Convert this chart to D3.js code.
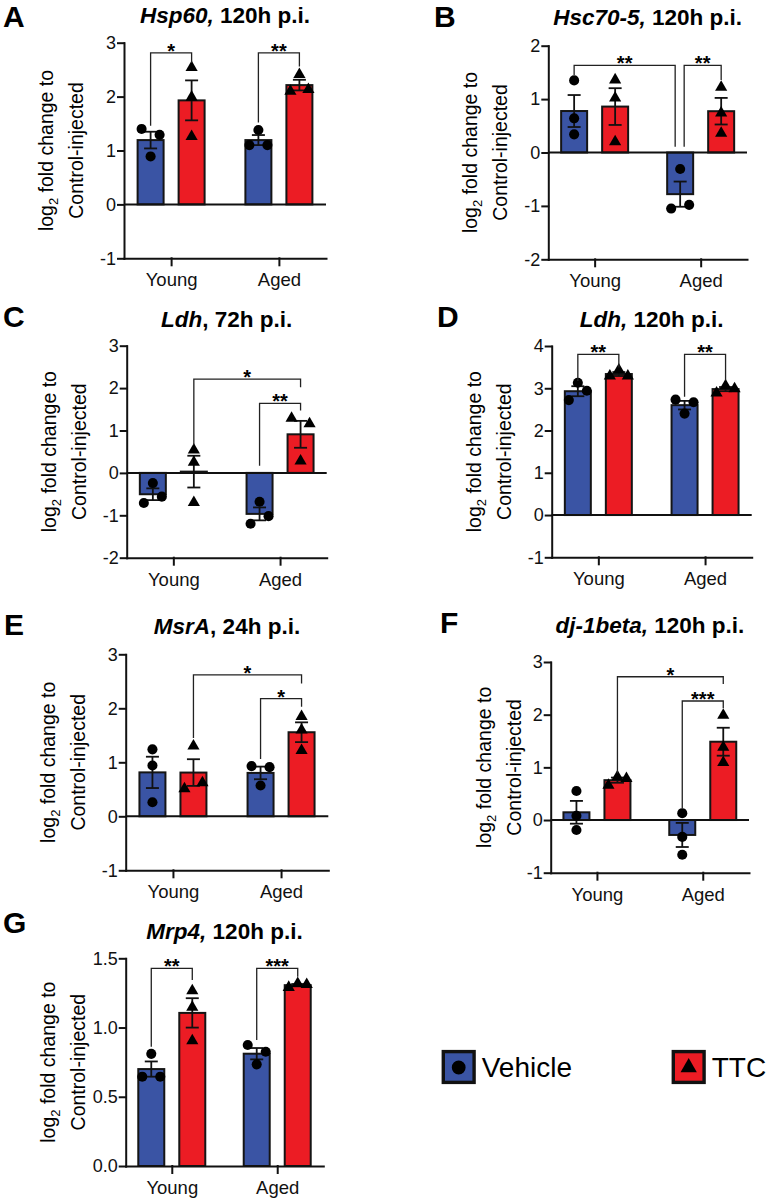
<!DOCTYPE html>
<html>
<head>
<meta charset="utf-8">
<script src="https://cdn.jsdelivr.net/npm/d3@7"></script>
<style>
  body { margin: 0; background: #fff; }
  svg { font-family: "Liberation Sans", Arial, sans-serif; }
  .axis path, .axis line { stroke: #111; stroke-width: 2; stroke-linecap: square; }
  .axis text { fill: #111; font-family: "Liberation Sans", Arial, sans-serif; }
</style>
</head>
<body>
<div id="chart-area"></div>
<script>
// categories
const groups = ["Young", "Aged"];
const series = ["Vehicle", "TTC"];
const colors = ["#3a54a4", "#ec1c24"];

// replicate values, order: Young-Vehicle, Young-TTC, Aged-Vehicle, Aged-TTC
// spread = which side of the bar centre each dot sits (-1 left, 0 centre, 1 right)
const hsp60Values = [[1.40, 1.29, 0.89], [2.54, 1.99, 1.26], [1.38, 1.10, 1.10], [2.41, 2.10, 2.13]];
const hsp60Spread = [[-1, 1, 0], [0, 0, 0], [0, -1, 1], [0, -1, 1]];
const hsc70Values = [[1.35, 0.64, 0.34], [1.36, 1.02, 0.20], [-0.31, -1.05, -0.98], [1.22, 0.74, 0.36]];
const hsc70Spread = [[0, 0, 0], [0, 0, 0], [0, -1, 1], [0, 0, 0]];
const ldh72Values = [[-0.24, -0.71, -0.56], [0.54, 0.25, -0.70], [-0.68, -1.20, -1.02], [1.29, 1.16, 0.28]];
const ldh72Spread = [[0, -1, 1], [0, 0, 0], [0, -1, 1], [-1, 1, 0]];
const ldh120Values = [[3.13, 2.72, 2.94], [3.43, 3.29, 3.29], [2.73, 2.40, 2.67], [3.06, 2.89, 2.99]];
const ldh120Spread = [[0, -1, 1], [0, -1, 1], [-1, 0, 1], [0, -1, 1]];
const msraValues = [[1.24, 0.94, 0.26], [1.30, 0.51, 0.62], [0.93, 0.57, 0.91], [1.85, 1.60, 1.22]];
const msraSpread = [[0, 0, 0], [0, -1, 1], [-1, 0, 1], [0, 0, 0]];
const dj1Values = [[0.55, 0.08, -0.19], [0.82, 0.66, 0.79], [0.13, -0.32, -0.66], [1.99, 1.38, 1.09]];
const dj1Spread = [[0, 0, 0], [0, -1, 1], [0, 0, 0], [0, 0, 0]];
const mrp4Values = [[0.81, 0.645, 0.645], [1.266, 1.146, 0.905], [0.874, 0.734, 0.825], [1.318, 1.29, 1.31]];
const mrp4Spread = [[0, -1, 1], [0, 0, 0], [-1, 0, 1], [0, -1, 1]];

// significance brackets: from, to, top value, left/right end values, label
const hsp60Sig = [
  { a: ["Young", "Vehicle"], b: ["Young", "TTC"], top: 2.81, ends: [1.46, 2.63], label: "*" },
  { a: ["Aged", "Vehicle"], b: ["Aged", "TTC"], top: 2.81, ends: [1.52, 2.56], label: "**" }
];
const hsc70Sig = [
  { a: ["Young", "Vehicle"], b: ["Aged", "Vehicle"], top: 1.63, ends: [1.45, 0.11], label: "**", nb: -5 },
  { a: ["Aged", "Vehicle"], b: ["Aged", "TTC"], top: 1.63, ends: [0.11, 1.36], label: "**", na: 4 }
];
const ldh72Sig = [
  { a: ["Young", "TTC"], b: ["Aged", "TTC"], top: 2.21, ends: [0.66, 2.02], label: "*" },
  { a: ["Aged", "Vehicle"], b: ["Aged", "TTC"], top: 1.64, ends: [0.17, 1.47], label: "**" }
];
const ldh120Sig = [
  { a: ["Young", "Vehicle"], b: ["Young", "TTC"], top: 3.80, ends: [3.17, 3.49], label: "**" },
  { a: ["Aged", "Vehicle"], b: ["Aged", "TTC"], top: 3.80, ends: [2.80, 3.19], label: "**" }
];
const msraSig = [
  { a: ["Young", "TTC"], b: ["Aged", "TTC"], top: 2.62, ends: [1.45, 2.46], label: "*" },
  { a: ["Aged", "Vehicle"], b: ["Aged", "TTC"], top: 2.18, ends: [1.06, 2.03], label: "*" }
];
const dj1Sig = [
  { a: ["Young", "TTC"], b: ["Aged", "TTC"], top: 2.72, ends: [0.89, 2.58], label: "*" },
  { a: ["Aged", "Vehicle"], b: ["Aged", "TTC"], top: 2.26, ends: [0.22, 2.12], label: "***" }
];
const mrp4Sig = [
  { a: ["Young", "Vehicle"], b: ["Young", "TTC"], top: 1.427, ends: [0.861, 1.343], label: "**" },
  { a: ["Aged", "Vehicle"], b: ["Aged", "TTC"], top: 1.427, ends: [0.91, 1.367], label: "***" }
];

// y tick labels
const ticksA = [-1, 0, 1, 2, 3];
const ticksB = [-2, -1, 0, 1, 2];
const ticksC = [-2, -1, 0, 1, 2, 3];
const ticksD = [-1, 0, 1, 2, 3, 4];
const ticksG = [0, 0.5, 1.0, 1.5];

const panels = [
  { letter: "A", gene: "Hsp60,", rest: " 120h p.i.", values: hsp60Values, spread: hsp60Spread, sig: hsp60Sig, ticks: ticksA,
    x: 124, y: 42.7, w: 202, h: 215.6, titleY: 23, lx: 3, ly: 27 },
  { letter: "B", gene: "Hsc70-5,", rest: " 120h p.i.", values: hsc70Values, spread: hsc70Spread, sig: hsc70Sig, ticks: ticksB,
    x: 548.3, y: 45.7, w: 198.7, h: 213.6, titleY: 25, lx: 434, ly: 27 },
  { letter: "C", gene: "Ldh", rest: ", 72h p.i.", values: ldh72Values, spread: ldh72Spread, sig: ldh72Sig, ticks: ticksC,
    x: 126.7, y: 345.7, w: 200, h: 212, titleY: 327, lx: 3, ly: 327 },
  { letter: "D", gene: "Ldh,", rest: " 120h p.i.", values: ldh120Values, spread: ldh120Spread, sig: ldh120Sig, ticks: ticksD,
    x: 551.7, y: 346, w: 200, h: 211.3, titleY: 327, lx: 437, ly: 327 },
  { letter: "E", gene: "MsrA", rest: ", 24h p.i.", values: msraValues, spread: msraSpread, sig: msraSig, ticks: ticksA,
    x: 125.7, y: 654.3, w: 202.6, h: 216, titleY: 634, lx: 4, ly: 635 },
  { letter: "F", gene: "dj-1beta,", rest: " 120h p.i.", values: dj1Values, spread: dj1Spread, sig: dj1Sig, ticks: ticksA,
    x: 550.7, y: 662, w: 198.3, h: 210.7, titleY: 633, lx: 440, ly: 633, labelShift: 11 },
  { letter: "G", gene: "Mrp4,", rest: " 120h p.i.", values: mrp4Values, spread: mrp4Spread, sig: mrp4Sig, ticks: ticksG,
    x: 125.7, y: 958.3, w: 197.6, h: 207.7, titleY: 939, lx: 3, ly: 933, decimals: 1 }
];

const svg = d3.select("#chart-area")
              .append("svg")
              .attr("width", 770)
              .attr("height", 1199);

const shapes = [d3.symbol(d3.symbolCircle, 80), d3.symbol(d3.symbolTriangle, 64)];

panels.forEach(p => {
  const g = svg.append("g")
               .attr("transform", `translate(${p.x}, ${p.y})`);

  const y = d3.scaleLinear()
              .domain(d3.extent(p.ticks))
              .range([p.h, 0]);

  const x0 = d3.scalePoint()
               .domain(groups)
               .range([0, p.w])
               .padding(0.437);

  const x1 = d3.scaleBand()
               .domain(series)
               .range([-33.5, 33.5])
               .paddingInner(0.366);

  const bw = x1.bandwidth();
  const cx = (grp, s) => x0(grp) + x1(s) + bw / 2;

  const cells = [];
  groups.forEach((grp, gi) => {
    series.forEach((s, si) => {
      const k = gi * 2 + si;
      const vals = p.values[k];
      cells.push({
        grp, s, si, vals,
        spread: p.spread[k],
        mean: d3.mean(vals),
        sem: d3.deviation(vals) / Math.sqrt(vals.length)
      });
    });
  });

  // bars
  g.selectAll("rect.bar")
   .data(cells)
   .enter()
   .append("rect")
     .attr("class", "bar")
     .attr("x", d => cx(d.grp, d.s) - bw / 2)
     .attr("y", d => y(Math.max(0, d.mean)))
     .attr("width", bw)
     .attr("height", d => Math.abs(y(d.mean) - y(0)))
     .attr("fill", d => colors[d.si])
     .attr("stroke", "#151515")
     .attr("stroke-width", 2);

  // axes
  const fmt = p.decimals ? (d => d.toFixed(p.decimals)) : (d => String(d));
  g.append("g")
   .attr("class", "axis y-axis")
   .call(d3.axisLeft(y).tickValues(p.ticks).tickFormat(fmt).tickSize(6).tickPadding(2).tickSizeOuter(0))
   .selectAll("text").style("font-size", "18px");

  g.append("g")
   .attr("class", "axis x-axis")
   .attr("transform", `translate(0, ${p.h})`)
   .call(d3.axisBottom(x0).tickSize(7).tickPadding(8).tickSizeOuter(0))
   .selectAll("text").style("font-size", "18.5px");

  if (y.domain()[0] < 0) {
    g.append("line")
     .attr("x1", 0)
     .attr("x2", p.w)
     .attr("y1", y(0))
     .attr("y2", y(0))
     .attr("stroke", "#111")
     .attr("stroke-width", 2);
  }

  // error bars (mean ± SEM)
  const eb = g.selectAll("g.err")
              .data(cells)
              .enter()
              .append("g")
                .attr("class", "err")
                .attr("stroke", "#111")
                .attr("stroke-width", 1.8);
  eb.append("line")
    .attr("x1", d => cx(d.grp, d.s))
    .attr("x2", d => cx(d.grp, d.s))
    .attr("y1", d => y(d.mean - d.sem))
    .attr("y2", d => y(d.mean + d.sem));
  [-1, 1].forEach(sign => {
    eb.append("line")
      .attr("x1", d => cx(d.grp, d.s) - 6.5)
      .attr("x2", d => cx(d.grp, d.s) + 6.5)
      .attr("y1", d => y(d.mean + sign * d.sem))
      .attr("y2", d => y(d.mean + sign * d.sem));
  });

  // replicate points
  const pts = [];
  cells.forEach(c => c.vals.forEach((v, i) => pts.push({ c, v, off: c.spread[i] })));
  g.selectAll("path.pt")
   .data(pts)
   .enter()
   .append("path")
     .attr("class", "pt")
     .attr("d", d => shapes[d.c.si]())
     .attr("transform", d => `translate(${cx(d.c.grp, d.c.s) + d.off * 9}, ${y(d.v)})`)
     .attr("fill", "#000");

  // significance brackets
  p.sig.forEach(b => {
    const xa = cx(b.a[0], b.a[1]) + (b.na || 0);
    const xb = cx(b.b[0], b.b[1]) + (b.nb || 0);
    g.append("path")
     .attr("d", `M${xa},${y(b.ends[0])}V${y(b.top)}H${xb}V${y(b.ends[1])}`)
     .attr("fill", "none")
     .attr("stroke", "#222")
     .attr("stroke-width", 1.3);
    g.append("text")
     .attr("x", (xa + xb) / 2)
     .attr("y", y(b.top) + 5)
     .attr("text-anchor", "middle")
     .style("font-size", "20px")
     .style("font-weight", "bold")
     .text(b.label);
  });

  // y label
  const yl = g.append("g")
              .attr("transform", `translate(${-71 + (p.labelShift || 0)}, ${p.h / 2}) rotate(-90)`)
              .style("font-size", "19.5px");
  const t1 = yl.append("text").attr("text-anchor", "middle");
  t1.append("tspan").text("log");
  t1.append("tspan").attr("dy", 5).style("font-size", "13px").text("2");
  t1.append("tspan").attr("dy", -5).text(" fold change to");
  yl.append("text")
    .attr("text-anchor", "middle")
    .attr("y", 30)
    .text("Control-injected");

  // title
  const title = svg.append("text")
                   .attr("x", p.x + p.w / 2)
                   .attr("y", p.titleY)
                   .attr("text-anchor", "middle")
                   .style("font-size", "22.5px")
                   .style("font-weight", "bold");
  title.append("tspan").style("font-style", "italic").text(p.gene);
  title.append("tspan").text(p.rest);

  svg.append("text")
     .attr("x", p.lx)
     .attr("y", p.ly)
     .style("font-size", "30px")
     .style("font-weight", "bold")
     .text(p.letter);
});

// legend
const legendX = [441.7, 671.7];
const legend = svg.selectAll("g.legend")
                  .data(series)
                  .enter()
                  .append("g")
                    .attr("class", "legend")
                    .attr("transform", (d, i) => `translate(${legendX[i]}, 1050)`);
legend.append("rect")
      .attr("x", 1.6)
      .attr("y", 1.6)
      .attr("width", 30.8)
      .attr("height", 30.8)
      .attr("fill", (d, i) => colors[i])
      .attr("stroke", "#111")
      .attr("stroke-width", 3.4);
legend.append("path")
      .attr("d", (d, i) => d3.symbol(i === 0 ? d3.symbolCircle : d3.symbolTriangle, i === 0 ? 150 : 115)())
      .attr("transform", "translate(17, 17.5)")
      .attr("fill", "#000");
legend.append("text")
      .attr("x", 40)
      .attr("y", 27)
      .style("font-size", "28px")
      .text(d => d);
</script>
</body>
</html>
